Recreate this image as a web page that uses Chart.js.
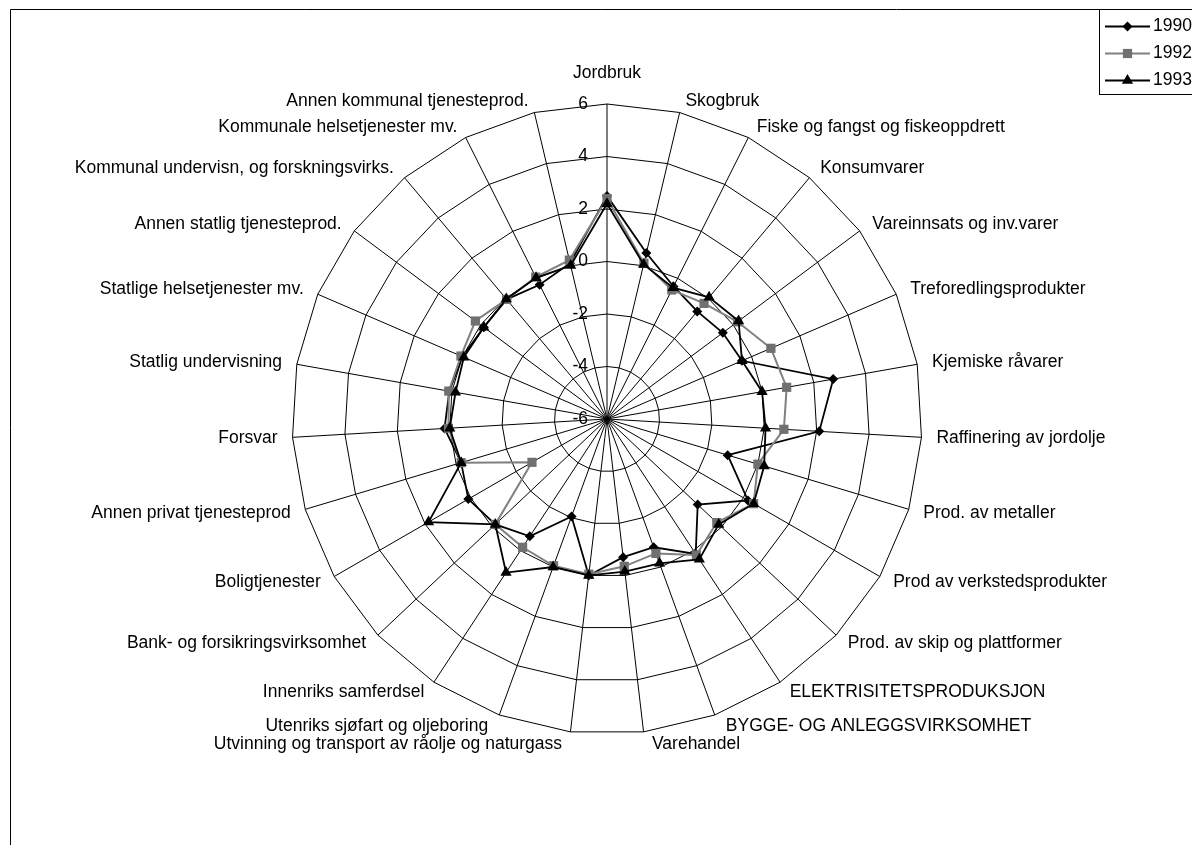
<!DOCTYPE html>
<html>
<head>
<meta charset="utf-8">
<script src="https://cdn.jsdelivr.net/npm/chart.js"></script>
<style>
  html, body { margin: 0; padding: 0; background: #ffffff; }
  #wrap { width: 1192px; height: 845px; position: relative; }
</style>
</head>
<body>
<div id="wrap"><canvas id="c" width="1192" height="845"></canvas></div>
<script>
const categories = [
  'Jordbruk',
  'Skogbruk',
  'Fiske og fangst og fiskeoppdrett',
  'Konsumvarer',
  'Vareinnsats og inv.varer',
  'Treforedlingsprodukter',
  'Kjemiske råvarer',
  'Raffinering av jordolje',
  'Prod. av metaller',
  'Prod av verkstedsprodukter',
  'Prod. av skip og plattformer',
  'ELEKTRISITETSPRODUKSJON',
  'BYGGE- OG ANLEGGSVIRKSOMHET',
  'Varehandel',
  'Utvinning og transport av råolje og naturgass',
  'Utenriks sjøfart og oljeboring',
  'Innenriks samferdsel',
  'Bank- og forsikringsvirksomhet',
  'Boligtjenester',
  'Annen privat tjenesteprod',
  'Forsvar',
  'Statlig undervisning',
  'Statlige helsetjenester mv.',
  'Annen statlig tjenesteprod.',
  'Kommunal undervisn, og forskningsvirks.',
  'Kommunale helsetjenester mv.',
  'Annen kommunal tjenesteprod.'
];

const values1990 = [2.5, 0.5, -0.35, -0.65, -0.5, -0.4, 2.75, 2.1, -1.2, 0.2, -1.25, 0.15, -0.8, -0.7, 0.0, -2.05, -0.65, -0.15, 0.1, -0.2, 0.2, 0.1, 0.0, -0.15, -0.05, -0.28, 0.1];
const values1992 = [2.4, 0.1, -0.5, -0.25, 0.2, 0.8, 0.95, 0.75, 0.0, 0.45, -0.25, 0.2, -0.55, -0.35, -0.05, -0.05, -0.15, -0.15, -2.7, -0.2, 0.05, 0.12, 0.06, 0.25, -0.05, 0.05, 0.22];
const values1993 = [2.2, 0.05, -0.4, 0.05, 0.25, -0.4, 0.0, 0.05, 0.25, 0.45, -0.15, 0.4, -0.15, -0.15, 0.0, 0.0, 1.0, -0.15, 1.85, -0.2, 0.0, -0.14, -0.06, -0.15, -0.03, 0.02, 0.01];

const seriesNames = ['1990', '1992', '1993'];
const tickMin = -6;
const tickMax = 6;
const tickStep = 2;

const FONT_FAMILY = '"Liberation Sans", Arial, sans-serif';
const FONT_SIZE = 17.5;

function drawMarker(ctx, style, x, y, r) {
  ctx.beginPath();
  if (style === 'rectRot') {
    ctx.moveTo(x, y - r); ctx.lineTo(x + r, y); ctx.lineTo(x, y + r); ctx.lineTo(x - r, y);
  } else if (style === 'rect') {
    const s = r * Math.SQRT1_2;
    ctx.rect(x - s, y - s, 2 * s, 2 * s);
  } else if (style === 'triangle') {
    for (let k = 0; k < 3; k++) {
      const a = k * 2 * Math.PI / 3;
      const px = x + Math.sin(a) * r, py = y - Math.cos(a) * r;
      if (k === 0) ctx.moveTo(px, py); else ctx.lineTo(px, py);
    }
  }
  ctx.closePath();
  ctx.fill();
}

const overlay = {
  id: 'overlay',
  afterDraw(chart) {
    const ctx = chart.ctx;
    const s = chart.scales.r;
    ctx.save();

    // outer chart frame
    ctx.strokeStyle = '#000';
    ctx.lineWidth = 1;
    ctx.beginPath();
    ctx.moveTo(10.5, 845);
    ctx.lineTo(10.5, 9.5);
    ctx.lineTo(1192, 9.5);
    ctx.stroke();

    ctx.font = FONT_SIZE + 'px ' + FONT_FAMILY;
    ctx.fillStyle = '#000';

    // value tick labels along the vertical axis
    ctx.textAlign = 'right';
    ctx.textBaseline = 'middle';
    s.ticks.forEach(t => {
      const d = s.getDistanceFromCenterForValue(t.value);
      ctx.fillText(String(t.value), s.xCenter - 19, s.yCenter - d);
    });

    // category labels
    chart.data.labels.forEach((lab, i) => {
      const p = s.getPointPosition(i, s.drawingArea + 12);
      let align = 'center';
      let x = p.x;
      if (p.x > s.xCenter + 3) { align = 'left'; x += 3; }
      else if (p.x < s.xCenter - 3) { align = 'right'; x -= 3; }
      const bottomish = Math.abs(p.x - s.xCenter) < 120 && p.y > s.yCenter;
      if (bottomish) x += (align === 'left' ? 4 : -4);
      let y = p.y;
      if (align === 'center') y -= 19;
      ctx.textAlign = align;
      ctx.textBaseline = 'middle';
      ctx.fillText(lab, x, y);
    });

    // legend
    const lx = 1099.5, ly = 9.5;
    ctx.fillStyle = '#fff';
    ctx.fillRect(lx, ly, 200, 85);
    ctx.strokeStyle = '#000';
    ctx.lineWidth = 1;
    ctx.strokeRect(lx, ly, 200, 85);
    chart.data.datasets.forEach((ds, k) => {
      const yy = 26.5 + k * 27;
      ctx.strokeStyle = ds.borderColor;
      ctx.lineWidth = ds.borderWidth;
      ctx.beginPath();
      ctx.moveTo(1105, yy);
      ctx.lineTo(1150, yy);
      ctx.stroke();
      ctx.fillStyle = ds.pointBackgroundColor;
      drawMarker(ctx, ds.pointStyle, 1127.5, yy, ds.pointRadius);
      ctx.fillStyle = '#000';
      ctx.textAlign = 'left';
      ctx.textBaseline = 'middle';
      ctx.fillText(ds.label, 1153, yy);
    });

    ctx.restore();
  }
};

new Chart(document.getElementById('c'), {
  type: 'radar',
  data: {
    labels: categories,
    datasets: [
      {
        label: seriesNames[0], data: values1990, order: 2,
        borderColor: '#000000', borderWidth: 1.8, fill: false,
        backgroundColor: 'rgba(0,0,0,0)',
        pointStyle: 'rectRot', pointRadius: 5, pointBorderWidth: 0,
        pointBackgroundColor: '#000000', pointBorderColor: '#000000'
      },
      {
        label: seriesNames[1], data: values1992, order: 1,
        borderColor: '#808080', borderWidth: 2, fill: false,
        backgroundColor: 'rgba(0,0,0,0)',
        pointStyle: 'rect', pointRadius: 6.5, pointBorderWidth: 0,
        pointBackgroundColor: '#707070', pointBorderColor: '#707070'
      },
      {
        label: seriesNames[2], data: values1993, order: 0,
        borderColor: '#000000', borderWidth: 1.8, fill: false,
        backgroundColor: 'rgba(0,0,0,0)',
        pointStyle: 'triangle', pointRadius: 6.5, pointBorderWidth: 0,
        pointBackgroundColor: '#000000', pointBorderColor: '#000000'
      }
    ]
  },
  options: {
    responsive: false,
    animation: false,
    devicePixelRatio: 1,
    elements: { line: { tension: 0 } },
    plugins: { legend: { display: false }, tooltip: { enabled: false } },
    scales: {
      r: {
        min: tickMin,
        max: tickMax,
        ticks: { stepSize: tickStep, display: false },
        grid: { color: '#000000', lineWidth: 1, circular: false },
        angleLines: { color: '#000000', lineWidth: 1 },
        pointLabels: { display: false },
        afterFit: (scale) => {
          scale.xCenter = 607;
          scale.yCenter = 419;
          scale.drawingArea = 315;
        }
      }
    }
  },
  plugins: [overlay]
});
</script>
</body>
</html>
